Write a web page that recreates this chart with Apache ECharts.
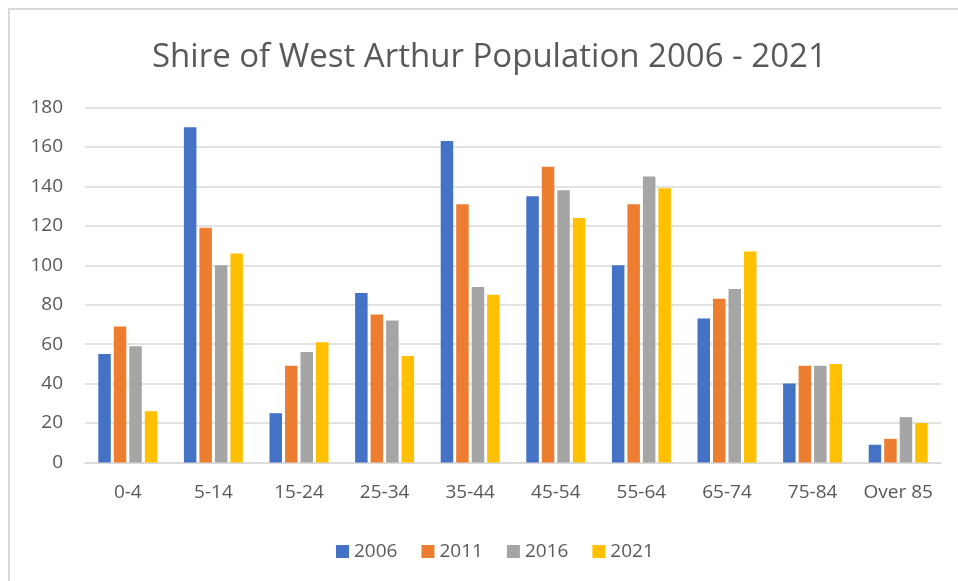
<!DOCTYPE html>
<html>
<head>
<meta charset="utf-8">
<script src="https://cdn.jsdelivr.net/npm/echarts@6/dist/echarts.min.js"></script>
<style>
    body { margin: 0; background: #ffffff; overflow: hidden; }
    #chart { width: 958px; height: 581px; }
    .frame {
        position: absolute;
        left: 8px;
        top: 8px;
        width: 1200px;
        height: 800px;
        border-top: 2px solid #d9d9d9;
        border-left: 2px solid #d9d9d9;
        pointer-events: none;
    }
</style>
</head>
<body>
<div id="chart"></div>
<div class="frame"></div>
<script>
const categories = ["0-4", "5-14", "15-24", "25-34", "35-44", "45-54", "55-64", "65-74", "75-84", "Over 85"];
const y2006 = [55, 170, 25, 86, 163, 135, 100, 73, 40, 9];
const y2011 = [69, 119, 49, 75, 131, 150, 131, 83, 49, 12];
const y2016 = [59, 100, 56, 72, 89, 138, 145, 88, 49, 23];
const y2021 = [26, 106, 61, 54, 85, 124, 139, 107, 50, 20];

const font = "Open Sans";
const textColor = "#595959";

const myChart = echarts.init(document.getElementById("chart"));

function makeSeries(name, data) {
    return {
        name: name,
        type: "bar",
        data: data,
        barWidth: 12.5,
        barGap: "24%",
    };
}

const option = {
    animation: false,
    color: ["#4472C4", "#ED7D31", "#A5A5A5", "#FFC000"],
    title: {
        text: "Shire of West Arthur Population 2006 - 2021",
        left: 152,
        top: 41,
        padding: 0,
        textStyle: { fontFamily: font, fontSize: 33, fontWeight: "normal", color: textColor },
    },
    legend: {
        left: 331,
        top: 537,
        itemWidth: 13,
        itemHeight: 13,
        itemGap: 24,
        icon: "rect",
        textStyle: { fontFamily: font, fontSize: 19, color: textColor },
    },
    grid: {
        left: 85,
        right: 17,
        top: 107.5,
        bottom: 118.5,
    },
    xAxis: {
        type: "category",
        data: categories,
        axisLine: { lineStyle: { color: "#d9d9d9", width: 1.5 } },
        axisTick: { show: false },
        axisLabel: { interval: 0, margin: 21, fontFamily: font, fontSize: 19, color: textColor },
    },
    yAxis: {
        type: "value",
        min: 0,
        max: 180,
        interval: 20,
        axisLine: { show: false },
        axisTick: { show: false },
        axisLabel: { margin: 22, fontFamily: font, fontSize: 19, color: textColor },
        splitLine: { lineStyle: { color: "#d9d9d9", width: 1.5 } },
    },
    series: [
        makeSeries("2006", y2006),
        makeSeries("2011", y2011),
        makeSeries("2016", y2016),
        makeSeries("2021", y2021),
    ],
};
myChart.setOption(option);
</script>
</body>
</html>
